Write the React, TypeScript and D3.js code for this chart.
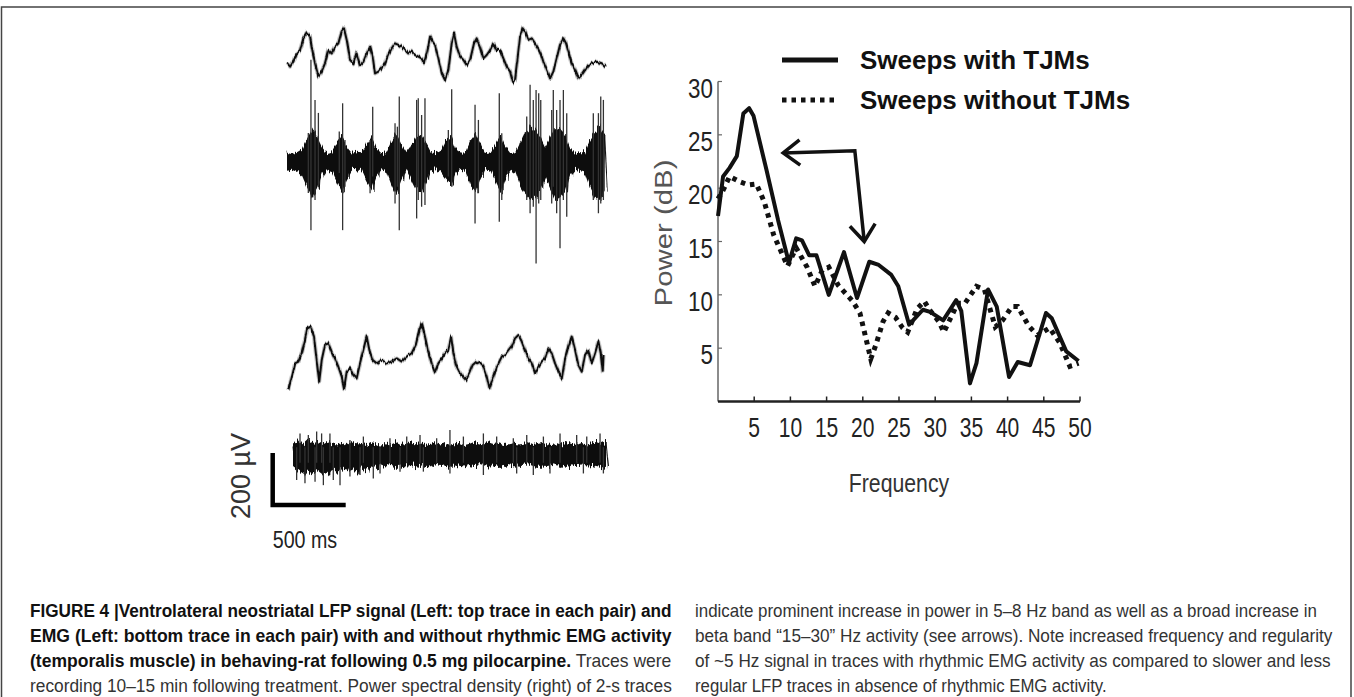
import * as d3 from "d3";
import { useRef, useEffect } from "react";

// power spectra, [frequency Hz, power dB]
const withTjms = [
  [0, 17.4], [0.7, 21.1], [1.6, 21.9], [2.6, 23.0], [3.5, 27.0], [4.3, 27.5], [4.9, 26.8],
  [6.7, 21.7], [8.3, 17.0], [9.8, 13.0], [10.8, 15.3], [11.6, 15.1], [12.6, 13.7], [13.6, 13.7],
  [15.3, 10.0], [17.4, 14.0], [19.2, 9.7], [20.9, 13.1], [22.2, 12.8], [23.9, 11.9], [24.9, 10.8],
  [26.4, 7.2], [28.3, 8.6], [29.3, 8.4], [31.1, 7.6], [32.9, 9.5], [33.6, 8.5], [34.8, 1.7],
  [35.7, 3.6], [37.3, 10.5], [38.5, 8.9], [40.2, 2.3], [41.4, 3.7], [43.1, 3.4], [45.3, 8.3],
  [46.1, 7.8], [48.1, 4.7], [49.8, 3.8],
];
const withoutTjms = [
  [0, 19.0], [0.7, 19.8], [1.6, 21.1], [3.0, 20.6], [4.2, 20.3], [5.3, 20.4], [6.4, 18.7],
  [7.7, 15.6], [9.6, 12.7], [10.8, 14.4], [12.3, 12.6], [13.4, 10.8], [14.4, 12.3], [15.3, 12.6],
  [16.6, 10.9], [18.6, 9.4], [19.6, 8.3], [21.1, 4.0], [21.8, 5.3], [22.8, 7.5], [23.5, 8.3],
  [24.5, 7.9], [25.5, 6.9], [26.2, 6.5], [27.5, 8.7], [28.5, 9.4], [29.2, 8.6], [30.5, 7.5],
  [31.2, 6.5], [31.9, 7.5], [33.1, 9.2], [34.1, 9.2], [35.7, 10.8], [36.8, 10.5], [37.6, 8.6],
  [38.3, 7.0], [39.3, 7.6], [40.6, 8.9], [41.4, 8.9], [42.9, 7.1], [44.1, 6.2], [45.8, 6.9],
  [47.2, 5.5], [48.6, 3.3], [49.8, 3.6],
];
const freqTicks = [5, 10, 15, 20, 25, 30, 35, 40, 45, 50];
const powerTicks = [5, 10, 15, 20, 25, 30];
const legendLabels = ["Sweeps with TJMs", "Sweeps without TJMs"];
// bent double arrow, in Hz / dB
const arrowPoints = [[9.0, 23.3], [18.9, 23.5], [20.2, 15.0]];

// LFP traces, [time ms, amplitude µV]
const lfpWith = [
  [2, -32], [21, -45], [43, -26], [66, 6], [89, 19], [112, 64], [135, 83], [158, 71], [169, 32],
  [192, -32], [215, -83], [237, -64], [260, -32], [283, 19], [306, 6], [329, 32], [352, 45],
  [374, 90], [390, 103], [409, 58], [432, -19], [455, -32], [477, 6], [500, -39], [523, -26],
  [546, 6], [569, 32], [587, -6], [603, -71], [626, -64], [648, -51], [671, -32], [694, 0],
  [717, 26], [740, 45], [763, 39], [785, 32], [808, 19], [831, 6], [854, 13], [877, 0], [900, -6],
  [922, -13], [938, -32], [957, 6], [980, 71], [998, 51], [1014, 39], [1037, -13], [1060, -71],
  [1082, -96], [1105, -58], [1128, 45], [1144, 83], [1162, 32], [1185, -6], [1208, -19],
  [1231, -39], [1254, -19], [1281, 45], [1299, 64], [1322, 32], [1345, -13], [1368, 0],
  [1391, 19], [1413, 45], [1436, 19], [1459, 19], [1482, -13], [1505, -45], [1528, -64],
  [1546, -103], [1562, -96], [1578, -19], [1596, 71], [1614, 103], [1630, 90], [1653, 58],
  [1676, 64], [1699, 45], [1721, 26], [1738, 6], [1756, -26], [1779, -58], [1802, -90],
  [1824, -64], [1847, -13], [1870, 39], [1893, 64], [1911, 45], [1927, 13], [1950, -32],
  [1973, -58], [1996, -90], [2019, -77], [2041, -58], [2064, -39], [2087, -32], [2121, -26],
  [2156, -32], [2185, -45],
];
const lfpWithout = [
  [2, -116], [25, -64], [48, -13], [71, -6], [94, 26], [116, 77], [132, 122], [155, 128],
  [178, 90], [196, 0], [214, -83], [231, 0], [253, 58], [276, 64], [299, 32], [322, 6],
  [345, -26], [368, -64], [384, -109], [402, -45], [425, -32], [447, -58], [470, -71],
  [493, -13], [516, 39], [539, 90], [557, 39], [580, 0], [608, -13], [642, 0], [676, -13],
  [710, -6], [745, 6], [779, -6], [813, 13], [847, 26], [875, 58], [900, 116], [916, 141],
  [938, 90], [961, 32], [984, -13], [1007, -45], [1030, -13], [1053, 6], [1075, 26], [1098, 39],
  [1117, 90], [1133, 26], [1151, -19], [1174, -45], [1197, -64], [1219, -77], [1242, -51],
  [1265, -19], [1292, -6], [1315, -13], [1338, -26], [1361, -64], [1379, -109], [1402, -71],
  [1430, -26], [1464, 13], [1498, 26], [1532, 51], [1555, 83], [1578, 96], [1601, 71],
  [1623, 39], [1646, 6], [1669, -13], [1692, -51], [1715, -26], [1738, -6], [1760, 6],
  [1783, 45], [1806, 26], [1829, -13], [1852, -45], [1875, -71], [1898, 6], [1920, 51],
  [1943, 90], [1966, 39], [1989, -19], [2012, -45], [2034, 19], [2057, 39], [2080, -13],
  [2103, 26], [2126, 71], [2142, 26], [2156, -45], [2161, 19],
];

// EMG envelopes (µV), one value every emgStep ms
const emgWithStep = 34;
const emgWithTop = [
  32, 26, 34, 45, 85, 120, 95, 55, 30, 36, 70, 95, 55, 32, 36, 34, 65, 90, 50, 30,
  34, 75, 110, 65, 34, 60, 90, 100, 70, 34, 30, 38, 80, 95, 45, 32, 34, 80, 105, 65,
  30, 34, 65, 100, 55, 30, 34, 70, 110, 130, 120, 95, 55, 90, 130, 120, 100, 50, 32, 34,
  34, 80, 110, 130, 100,
];
const emgWithBottom = [
  -34, -30, -38, -55, -100, -140, -110, -55, -32, -38, -80, -120, -65, -34, -36, -38, -80, -110, -55, -32,
  -38, -90, -130, -75, -34, -70, -110, -120, -75, -36, -32, -44, -70, -90, -45, -34, -38, -100, -120, -65,
  -32, -38, -80, -120, -65, -32, -44, -100, -130, -150, -140, -110, -65, -110, -150, -140, -120, -55, -34, -38,
  -44, -100, -140, -150, -110,
];
// single EMG spikes, [time ms, top µV, bottom µV]
const emgWithSpikes = [
  [146, 108, -123], [164, 389, -266], [192, 235, -150], [215, 185, -100],
  [358, 113, -46], [381, 222, -266], [397, 81, -99],
  [569, 81, -124], [587, 209, -60],
  [740, 145, -163], [756, 132, -99], [769, 248, -266],
  [888, 235, -221], [899, 241, -150], [922, 177, -176], [945, 241, -169],
  [1105, 119, -60], [1128, 276, -99],
  [1288, 216, -240], [1311, 158, -124],
  [1454, 261, -234], [1471, 107, -150],
  [1642, 171, -150], [1665, 293, -201], [1687, 235, -176], [1706, 273, -394], [1724, 261, -163], [1738, 235, -150],
  [1813, 196, -163], [1824, 273, -99], [1847, 196, -201], [1870, 235, -336], [1893, 273, -150], [1916, 184, -214],
  [2098, 184, -150], [2133, 184, -201], [2149, 248, -163], [2167, 235, -150],
];

const emgWithoutStep = 33.5;
const emgWithoutTop = [
  44, 55, 40, 58, 46, 50, 42, 54, 44, 40, 46, 38, 48, 40, 42, 38, 46, 40, 36, 44,
  40, 48, 38, 42, 50, 40, 46, 38, 42, 48, 40, 44, 36, 40, 46, 38, 42, 50, 44, 40,
  48, 42, 46, 38, 40, 44, 40, 42, 48, 38, 42, 46, 40, 38, 44, 40, 48, 42, 38, 46,
  40, 44, 50, 42, 50,
];
const emgWithoutBottom = [
  -50, -64, -78, -60, -72, -56, -70, -78, -58, -64, -56, -60, -50, -66, -48, -56, -44, -50, -40, -48,
  -42, -46, -40, -44, -38, -42, -46, -40, -44, -36, -42, -40, -46, -36, -41, -44, -38, -42, -40, -36,
  -44, -40, -46, -42, -38, -44, -40, -42, -36, -41, -46, -40, -42, -38, -44, -40, -46, -36, -42, -40,
  -44, -38, -42, -46, -50,
];
const emgWithoutSpikes = [
  [48, 83, -30], [105, 77, -30], [162, 90, -30], [196, 83, -30], [253, 83, -30], [390, 58, -83],
  [482, 71, -30], [664, 64, -30], [779, 71, -30], [870, 77, -30], [984, 64, -30], [1075, 96, -71],
  [1167, 71, -30], [1304, 83, -77], [1395, 71, -30], [1509, 64, -30], [1601, 77, -30],
  [1715, 71, -30], [1829, 83, -30], [1943, 77, -30], [2012, 71, -30], [2103, 83, -30],
  [25, 30, -96], [82, 30, -109], [151, 30, -103], [208, 30, -116], [276, 30, -96], [322, 30, -116],
  [459, 30, -77], [550, 30, -90], [596, 30, -71], [733, 30, -64], [893, 30, -64], [1532, 30, -71],
  [1646, 30, -77], [1760, 30, -71], [1989, 30, -71], [2126, 30, -71],
];

const captionLeft = [
  [["FIGURE 4 |Ventrolateral neostriatal LFP signal (Left: top trace in each pair) and", true]],
  [["EMG (Left: bottom trace in each pair) with and without rhythmic EMG activity", true]],
  [["(temporalis muscle) in behaving-rat following 0.5 mg pilocarpine.", true], [" Traces were", false]],
  [["recording 10–15 min following treatment. Power spectral density (right) of 2-s traces", false]],
];
const captionRight = [
  "indicate prominent increase in power in 5–8 Hz band as well as a broad increase in",
  "beta band “15–30” Hz activity (see arrows). Note increased frequency and regularity",
  "of ~5 Hz signal in traces with rhythmic EMG activity as compared to slower and less",
  "regular LFP traces in absence of rhythmic EMG activity.",
];

const FONT = "'Liberation Sans', Arial, sans-serif";
const PX_PER_SEC = 146;
const PX_PER_100UV = 26;

function traceScales(x0, y0) {
  const t = d3.scaleLinear().domain([0, 1000]).range([x0, x0 + PX_PER_SEC]);
  const u = d3.scaleLinear().domain([0, 100]).range([y0, y0 - PX_PER_100UV]);
  return { t, u };
}

// squeeze a text horizontally so it spans `width` px
function fitWidth(text, x, y, width, extra = "") {
  const natural = text.node().getComputedTextLength();
  const k = natural > 0 ? width / natural : 1;
  text.attr("transform", `translate(${x},${y}) ${extra} scale(${k},1)`);
}

// vertical-only displacement noise, to get the scanned "hairy" look of the traces
function addNoiseFilter(defs, id, freq, scale, seed) {
  const f = defs.append("filter")
    .attr("id", id)
    .attr("x", "-2%").attr("y", "-60%")
    .attr("width", "104%").attr("height", "220%");
  f.append("feTurbulence")
    .attr("type", "fractalNoise")
    .attr("baseFrequency", freq)
    .attr("numOctaves", 2)
    .attr("seed", seed)
    .attr("result", "n");
  f.append("feColorMatrix")
    .attr("in", "n")
    .attr("type", "matrix")
    .attr("values", "0 0 0 0 0.5  0 1 0 0 0  0 0 0 0 0  0 0 0 0 1")
    .attr("result", "m");
  f.append("feDisplacementMap")
    .attr("in", "SourceGraphic")
    .attr("in2", "m")
    .attr("scale", scale)
    .attr("xChannelSelector", "R")
    .attr("yChannelSelector", "G");
}

function drawLfp(svg, data, x0, y0) {
  const { t, u } = traceScales(x0, y0);
  const line = d3.line().x((d) => t(d[0])).y((d) => u(d[1]));
  const g = svg.append("g").attr("filter", "url(#lfpNoise)");
  g.append("path")
    .attr("d", line(data))
    .attr("fill", "none")
    .attr("stroke", "#888")
    .attr("stroke-opacity", 0.5)
    .attr("stroke-width", 4)
    .attr("stroke-linejoin", "round");
  g.append("path")
    .attr("d", line(data))
    .attr("fill", "none")
    .attr("stroke", "#111")
    .attr("stroke-width", 2)
    .attr("stroke-linejoin", "round");
}

function drawEmg(svg, top, bottom, step, spikes, x0, y0) {
  const { t, u } = traceScales(x0, y0);
  const g = svg.append("g");
  const band = g.append("g").attr("filter", "url(#emgNoise)");

  const area = d3.area()
    .x((d, i) => t(i * step))
    .y0((d, i) => u(bottom[i]))
    .y1((d) => u(d));
  band.append("path").attr("d", area(top)).attr("fill", "#111");

  // zigzag over the envelope
  const zig = top.flatMap((v, i) => [[i * step, v], [i * step + step / 2, bottom[i]]]);
  band.append("path")
    .attr("d", d3.line().x((d) => t(d[0])).y((d) => u(d[1]))(zig))
    .attr("fill", "none")
    .attr("stroke", "#111")
    .attr("stroke-width", 1);

  g.selectAll("line.spike")
    .data(spikes)
    .join("line")
    .attr("class", "spike")
    .attr("x1", (d) => t(d[0]))
    .attr("x2", (d) => t(d[0]))
    .attr("y1", (d) => u(d[1]))
    .attr("y2", (d) => u(d[2]))
    .attr("stroke", "#333")
    .attr("stroke-width", 1.3);
}

function drawTraces(svg) {
  drawLfp(svg, lfpWith, 287, 55);
  drawEmg(svg, emgWithTop, emgWithBottom, emgWithStep, emgWithSpikes, 287, 161);
  drawLfp(svg, lfpWithout, 288, 360);
  drawEmg(svg, emgWithoutTop, emgWithoutBottom, emgWithoutStep, emgWithoutSpikes, 293, 455);

  // scale bar: 500 ms, 200 µV
  const { t, u } = traceScales(272.7, 505);
  svg.append("path")
    .attr("d", `M${t(0)},${u(200)}V${u(0)}H${t(500)}`)
    .attr("fill", "none")
    .attr("stroke", "#000")
    .attr("stroke-width", 4.5);
  svg.append("text")
    .attr("transform", `translate(${t(0)},548) scale(0.82,1)`)
    .attr("font-family", FONT)
    .attr("font-size", 24)
    .attr("fill", "#222")
    .text("500 ms");
  svg.append("text")
    .attr("transform", `translate(250,${u(100) - 3}) rotate(-90)`)
    .attr("text-anchor", "middle")
    .attr("font-family", FONT)
    .attr("font-size", 27)
    .attr("fill", "#333")
    .text("200 µV");
}

function drawSpectrum(svg) {
  const x = d3.scaleLinear().domain([0, 50]).range([718, 1080]);
  const y = d3.scaleLinear().domain([0, 30]).range([401.5, 81.5]);
  const g = svg.append("g").attr("font-family", FONT);

  // y axis
  g.append("line")
    .attr("x1", x(0)).attr("x2", x(0))
    .attr("y1", y(0)).attr("y2", y(30))
    .attr("stroke", "#666").attr("stroke-width", 1.5);
  g.selectAll("line.ytick")
    .data(powerTicks)
    .join("line")
    .attr("class", "ytick")
    .attr("x1", x(0)).attr("x2", x(0) + 4)
    .attr("y1", (d) => y(d)).attr("y2", (d) => y(d))
    .attr("stroke", "#666").attr("stroke-width", 1.2);
  g.selectAll("text.ylab")
    .data(powerTicks)
    .join("text")
    .attr("class", "ylab")
    .attr("transform", (d) => `translate(${x(0) - 5},${y(d) + 16}) scale(0.8,1)`)
    .attr("text-anchor", "end")
    .attr("font-size", 28)
    .attr("fill", "#222")
    .text((d) => d);

  // x axis
  g.append("line")
    .attr("x1", x(0)).attr("x2", x(50))
    .attr("y1", y(0)).attr("y2", y(0))
    .attr("stroke", "#222").attr("stroke-width", 2.5);
  g.selectAll("line.xtick")
    .data(freqTicks)
    .join("line")
    .attr("class", "xtick")
    .attr("x1", (d) => x(d)).attr("x2", (d) => x(d))
    .attr("y1", y(0)).attr("y2", y(0) - 5)
    .attr("stroke", "#222").attr("stroke-width", 1.5);
  g.selectAll("text.xlab")
    .data(freqTicks)
    .join("text")
    .attr("class", "xlab")
    .attr("transform", (d) => `translate(${x(d)},437) scale(0.78,1)`)
    .attr("text-anchor", "middle")
    .attr("font-size", 27)
    .attr("fill", "#222")
    .text((d) => d);

  g.append("text")
    .attr("transform", "translate(899,492) scale(0.85,1)")
    .attr("text-anchor", "middle")
    .attr("font-size", 25)
    .attr("fill", "#333")
    .text("Frequency");
  const powerLabel = g.append("text")
    .attr("text-anchor", "middle")
    .attr("font-size", 24)
    .attr("fill", "#555")
    .text("Power (dB)");
  fitWidth(powerLabel, 672, 233, 147, "rotate(-90)");

  const line = d3.line().x((d) => x(d[0])).y((d) => y(d[1]));
  g.append("path")
    .attr("d", line(withoutTjms))
    .attr("fill", "none")
    .attr("stroke", "#111")
    .attr("stroke-width", 5)
    .attr("stroke-dasharray", "4.5 5");
  g.append("path")
    .attr("d", line(withTjms))
    .attr("fill", "none")
    .attr("stroke", "#111")
    .attr("stroke-width", 4)
    .attr("stroke-linejoin", "round");

  // arrows
  const pts = arrowPoints.map((p) => [x(p[0]), y(p[1])]);
  g.append("path")
    .attr("d", d3.line()(pts))
    .attr("fill", "none")
    .attr("stroke", "#111")
    .attr("stroke-width", 3.5);
  const heads = [[pts[0], pts[1]], [pts[2], pts[1]]];
  heads.forEach(([tip, from]) => {
    const a = Math.atan2(from[1] - tip[1], from[0] - tip[0]);
    const len = 21;
    const spread = 0.65;
    const p1 = [tip[0] + len * Math.cos(a + spread), tip[1] + len * Math.sin(a + spread)];
    const p2 = [tip[0] + len * Math.cos(a - spread), tip[1] + len * Math.sin(a - spread)];
    g.append("path")
      .attr("d", d3.line()([p1, tip, p2]))
      .attr("fill", "none")
      .attr("stroke", "#111")
      .attr("stroke-width", 3.5);
  });

  // legend
  const legend = g.append("g");
  legendLabels.forEach((label, i) => {
    const ly = i === 0 ? 60 : 100;
    legend.append("line")
      .attr("x1", 782).attr("x2", 838)
      .attr("y1", ly).attr("y2", ly)
      .attr("stroke", "#111")
      .attr("stroke-width", 5)
      .attr("stroke-dasharray", i === 0 ? null : "4.5 5");
    legend.append("text")
      .attr("x", 860)
      .attr("y", ly + 9)
      .attr("font-size", 26)
      .attr("font-weight", "bold")
      .attr("fill", "#111")
      .text(label);
  });
}

function drawCaption(svg) {
  const g = svg.append("g").attr("font-family", FONT).attr("font-size", 18);
  const baselines = [617, 642, 667, 692];
  captionLeft.forEach((segments, i) => {
    const text = g.append("text");
    segments.forEach(([s, bold]) => {
      text.append("tspan")
        .attr("font-weight", bold ? "bold" : "normal")
        .attr("fill", bold ? "#111" : "#333")
        .text(s);
    });
    fitWidth(text, 30, baselines[i], 642);
  });
  const rightWidths = [622, 638, 636, 412];
  captionRight.forEach((s, i) => {
    const text = g.append("text").attr("fill", "#333").text(s);
    fitWidth(text, 695, baselines[i], rightWidths[i]);
  });
}

export default function App() {
  const svgRef = useRef(null);

  useEffect(() => {
    const svg = d3.select(svgRef.current);
    svg.selectAll("*").remove();

    const defs = svg.append("defs");
    addNoiseFilter(defs, "emgNoise", "0.9 0.02", 12, 4);
    addNoiseFilter(defs, "lfpNoise", "0.6 0.05", 5, 7);

    // figure frame
    svg.append("path")
      .attr("d", "M1.5,700V7H1351V700")
      .attr("fill", "none")
      .attr("stroke", "#444")
      .attr("stroke-width", 1.5);

    drawTraces(svg);
    drawSpectrum(svg);
    drawCaption(svg);
  }, []);

  return (
    <svg
      ref={svgRef}
      width={1354}
      height={697}
      style={{ position: "absolute", left: 0, top: 0, background: "#fff" }}
    />
  );
}
